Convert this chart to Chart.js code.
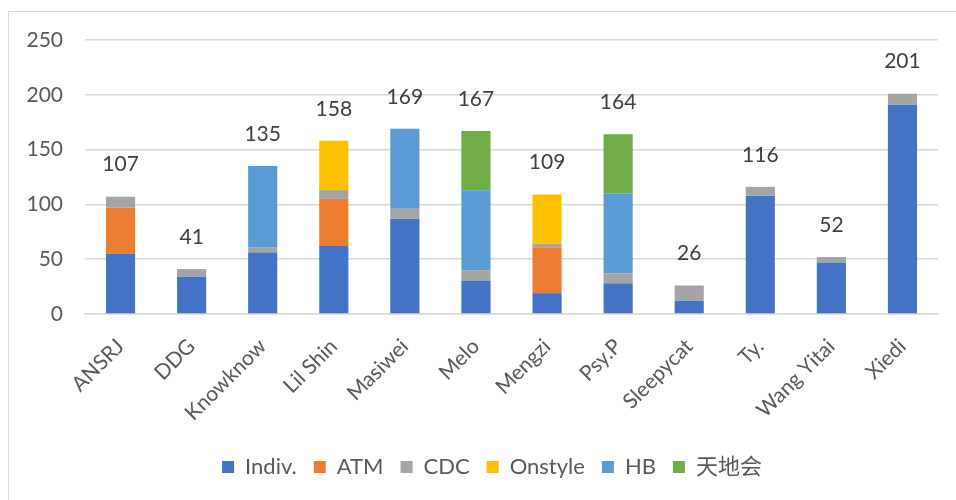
<!DOCTYPE html>
<html lang="en">

<head>
    <meta charset="UTF-8">
    <title>Stacked bars</title>
    <style>
        body { margin: 0; background: #fff; }
        #frame {
            position: absolute; left: 8px; top: 11px; width: 1000px; height: 600px;
            border-left: 1.5px solid #d9d9d9; border-top: 1.5px solid #d9d9d9;
        }
        #wrap { position: absolute; left: 0; top: 0; width: 956px; height: 500px; }
    </style>
</head>

<body>
    <div id="frame"></div>
    <div id="wrap"><canvas id="myChart"></canvas></div>
    <script src="https://cdn.jsdelivr.net/npm/chart.js"></script>
    <script>
        const artists = ['ANSRJ', 'DDG', 'Knowknow', 'Lil Shin', 'Masiwei', 'Melo', 'Mengzi', 'Psy.P', 'Sleepycat', 'Ty.', 'Wang Yitai', 'Xiedi'];
        const indiv   = [55, 34, 56, 62, 87, 30, 19, 28, 12, 108, 47, 191];
        const atm     = [42, 0, 0, 43, 0, 0, 42, 0, 0, 0, 0, 0];
        const cdc     = [10, 7, 5, 8, 9, 10, 3, 9, 14, 8, 5, 10];
        const onstyle = [0, 0, 0, 45, 0, 0, 45, 0, 0, 0, 0, 0];
        const hb      = [0, 0, 74, 0, 73, 73, 0, 73, 0, 0, 0, 0];
        const tdh     = [0, 0, 0, 0, 0, 54, 0, 54, 0, 0, 0, 0];
        const yTicks  = [0, 50, 100, 150, 200, 250];

        const FONT = "Lato, 'Noto Sans CJK SC', sans-serif";

        // totals above each bar
        const totalLabels = {
            id: 'totalLabels',
            afterDatasetsDraw(chart) {
                const c = chart.ctx;
                const x = chart.scales.x, y = chart.scales.y;
                c.save();
                c.font = '21px ' + FONT;
                c.fillStyle = '#404040';
                c.textAlign = 'center';
                c.textBaseline = 'middle';
                artists.forEach(function (name, i) {
                    let total = 0;
                    chart.data.datasets.forEach(function (ds) { total += ds.data[i]; });
                    c.fillText(total, x.getPixelForValue(i), y.getPixelForValue(total) - 32);
                });
                c.restore();
            }
        };

        // legend sits a bit right of the canvas centre in the original
        const legendShift = {
            id: 'legendShift',
            afterLayout(chart) {
                chart.legend.left += 23;
                chart.legend.right += 23;
            }
        };

        function ds(label, data, color) {
            return { label: label, data: data, backgroundColor: color, borderWidth: 0,
                     barPercentage: 0.41, categoryPercentage: 1 };
        }

        const ctx = document.getElementById('myChart');
        const mychart = new Chart(ctx, {
            type: 'bar',
            data: {
                labels: artists,
                datasets: [
                    ds('Indiv.', indiv, '#4472C4'),
                    ds('ATM', atm, '#ED7D31'),
                    ds('CDC', cdc, '#A5A5A5'),
                    ds('Onstyle', onstyle, '#FFC000'),
                    ds('HB', hb, '#5B9BD5'),
                    ds('天地会', tdh, '#70AD47')
                ]
            },
            options: {
                responsive: true,
                maintainAspectRatio: false,
                animation: false,
                layout: { padding: { top: 40, right: 18, bottom: 12, left: 0 } },
                plugins: {
                    legend: {
                        position: 'bottom',
                        labels: {
                            boxWidth: 12, boxHeight: 12, padding: 17,
                            color: '#595959', font: { size: 22, family: FONT }
                        }
                    },
                    tooltip: { enabled: false }
                },
                scales: {
                    x: {
                        stacked: true,
                        grid: { display: false },
                        border: { color: '#d9d9d9', width: 1.5 },
                        ticks: {
                            color: '#595959', font: { size: 21, family: FONT },
                            minRotation: 45, maxRotation: 45, padding: 12
                        },
                        afterFit: function (scale) { scale.height = 125; }
                    },
                    y: {
                        stacked: true,
                        min: 0, max: 250,
                        afterBuildTicks: function (scale) {
                            scale.ticks = yTicks.map(function (v) { return { value: v }; });
                        },
                        grid: { color: '#d9d9d9', lineWidth: 1.5, drawTicks: false },
                        border: { display: false },
                        ticks: { color: '#595959', font: { size: 21, family: FONT }, padding: 22 },
                        afterFit: function (scale) { scale.width = 85; }
                    }
                }
            },
            plugins: [totalLabels, legendShift]
        });
    </script>
</body>

</html>
